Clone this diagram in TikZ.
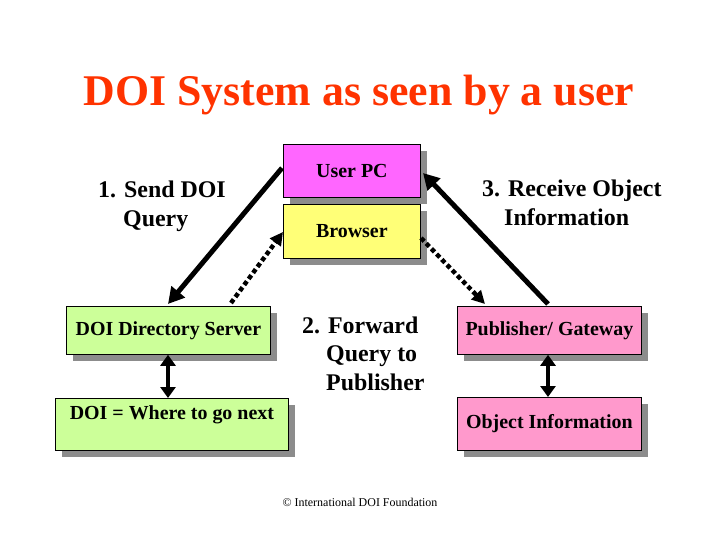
\documentclass[tikz,border=0pt]{standalone}
\usepackage{fontspec}
\setmainfont{Liberation Serif}
\usetikzlibrary{arrows.meta,shadows}
\definecolor{titlered}{HTML}{FF3300}
\definecolor{pcmag}{HTML}{FF66FF}
\definecolor{brwyel}{HTML}{FFFF77}
\definecolor{srvgreen}{HTML}{CCFF99}
\definecolor{pubpink}{HTML}{FF99CC}
\definecolor{shadowgrey}{HTML}{8C8C8C}
\tikzset{
  box/.style={draw=black, line width=0.8pt, inner sep=0pt, anchor=north west,
    font=\bfseries\fontsize{20}{22}\selectfont,
    drop shadow={shadow xshift=7bp, shadow yshift=-7bp, fill=shadowgrey, opacity=1}},
  lbl/.style={font=\bfseries\fontsize{24}{29}\selectfont, anchor=base west, inner sep=0pt},
  solidarr/.style={line width=5pt, -{Triangle[length=16bp,width=17bp]}},
  dotarr/.style={line width=4.5pt, dash pattern=on 4.5pt off 3pt, -{Triangle[length=13bp,width=13bp]}},
  dblarr/.style={line width=4pt, {Triangle[length=11bp,width=15bp]}-{Triangle[length=11bp,width=15bp]}}
}
\begin{document}
\begin{tikzpicture}[x=1bp,y=-1bp]
\useasboundingbox (0,0) rectangle (720,540);
% title
\node (title) [font=\bfseries\fontsize{44}{48}\selectfont, text=titlered] at (359,95) {DOI System as seen by a user};
% boxes
\node (pc) [box, fill=pcmag, minimum width=137bp, minimum height=53bp] at (283,144) {User PC};
\node (brw) [box, fill=brwyel, minimum width=137bp, minimum height=54bp] at (283,204) {Browser};
\node (srv) [box, fill=srvgreen, minimum width=204bp, minimum height=48bp] at (66,306) {DOI Directory Server};
\node (nxt) [box, fill=srvgreen, minimum width=233bp, text height=21bp, text depth=31bp] at (55,398) {DOI = Where to go next};
\node (pub) [box, fill=pubpink, minimum width=184bp, minimum height=48bp] at (457,306) {Publisher/ Gateway};
\node (obj) [box, fill=pubpink, minimum width=184bp, minimum height=53bp] at (457,397) {Object Information};
% labels
\node (l1a) [lbl] at (98,198) {1. Send DOI};
\node (l1b) [lbl] at (123,227) {Query};
\node (l3a) [lbl] at (482,197) {3. Receive Object};
\node (l3b) [lbl] at (504,226) {Information};
\node (l2a) [lbl] at (302,333) {2. Forward};
\node (l2b) [lbl] at (326,361.5) {Query to};
\node (l2c) [lbl] at (326,390) {Publisher};
% connectors
\coordinate (pcL) at (282,168);
\coordinate (srvT) at (168,304);
\coordinate (srvT2) at (231,303);
\coordinate (brwL) at (283,232);
\coordinate (brwR) at (421,238);
\coordinate (pubT) at (485,304);
\coordinate (pubT2) at (548,304);
\coordinate (pcR) at (423,173);
\draw[solidarr] (pcL) -- (srvT);
\draw[dotarr] (srvT2) -- (brwL);
\draw[dotarr] (brwR) -- (pubT);
\draw[solidarr] (pubT2) -- (pcR);
\draw[dblarr] (srv.south -| 168,0) -- (nxt.north -| 168,0);
\draw[dblarr] (pub.south -| 548,0) -- (obj.north -| 548,0);
% footer
\node (copy) [font=\fontsize{12}{14}\selectfont] at (360,502) {\textcopyright\ International DOI Foundation};
\end{tikzpicture}
\end{document}
